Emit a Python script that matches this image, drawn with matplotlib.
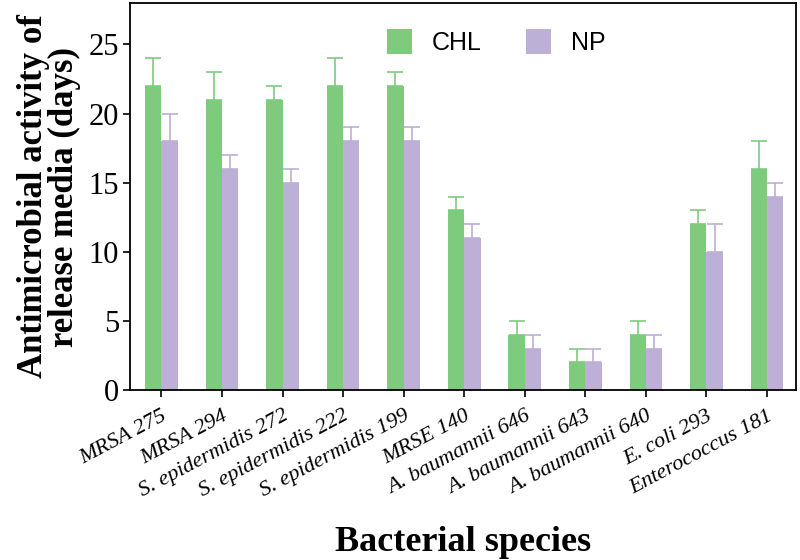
import numpy as np
import matplotlib
matplotlib.use('Agg')
from matplotlib import pyplot as plt

# 数据
species = ['MRSA 275', 'MRSA 294', 'S. epidermidis 272', 'S. epidermidis 222',
           'S. epidermidis 199', 'MRSE 140', 'A. baumannii 646', 'A. baumannii 643',
           'A. baumannii 640', 'E. coli 293', 'Enterococcus 181']
chl = [22, 21, 21, 22, 22, 13, 4, 2, 4, 12, 16]
chl_err = [2, 2, 1, 2, 1, 1, 1, 1, 1, 1, 2]
np_vals = [18, 16, 15, 18, 18, 11, 3, 2, 3, 10, 14]
np_err = [2, 1, 1, 1, 1, 1, 1, 1, 1, 2, 1]

green = '#7ecb7e'
purple = '#bdafd6'

fig = plt.figure(figsize=(8, 5.6), dpi=100)
ax = fig.add_axes([0.1625, 0.3036, 0.8325, 0.691])

x = np.arange(len(species))
w = 0.27
ax.bar(x - w/2, chl, w, color=green, label='CHL',
       yerr=[np.zeros(len(chl)), chl_err], error_kw=dict(ecolor=green, capsize=6, elinewidth=1.2, capthick=1.2))
ax.bar(x + w/2, np_vals, w, color=purple, label='NP',
       yerr=[np.zeros(len(np_vals)), np_err], error_kw=dict(ecolor=purple, capsize=6, elinewidth=1.2, capthick=1.2))

ax.set_xlim(-0.52, 10.48)
ax.set_ylim(0, 28)
ax.set_yticks([0, 5, 10, 15, 20, 25])
ax.set_xticks(x)
ax.set_xticklabels(species, rotation=28, ha='right', rotation_mode='anchor',
                   family='Liberation Serif', style='italic', fontsize=16)
for lab in ax.get_yticklabels():
    lab.set_family('Liberation Serif')
    lab.set_fontsize(22)
ax.tick_params(axis='both', direction='out', length=5, width=1.2)
ax.tick_params(axis='x', pad=7)
ax.tick_params(axis='y', pad=3)
for s in ax.spines.values():
    s.set_linewidth(1.3)

ax.set_ylabel('Antimicrobial activity of\nrelease media (days)', family='Liberation Serif',
              fontweight='bold', fontsize=25, labelpad=5, linespacing=0.95)
ax.set_xlabel('Bacterial species', family='Liberation Serif', fontweight='bold',
              fontsize=26, labelpad=18)

leg = ax.legend(loc='center', bbox_to_anchor=(0.55, 0.90), ncol=2, frameon=False,
                prop={'family': 'Liberation Sans', 'size': 18},
                handlelength=1.0, handleheight=1.2, columnspacing=1.8, handletextpad=0.8)

fig.savefig('out.png', dpi=100)
